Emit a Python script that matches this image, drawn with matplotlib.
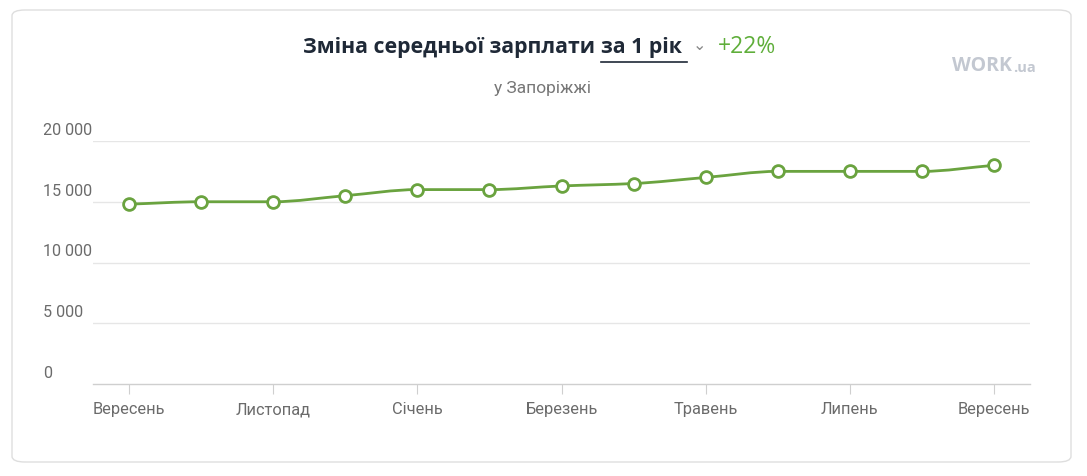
import numpy as np
import matplotlib
matplotlib.use("Agg")
import matplotlib.pyplot as plt
from matplotlib.path import Path
from matplotlib.patches import PathPatch, FancyBboxPatch

# data (monthly average salary, UAH)
months = ["Вересень", "Жовтень", "Листопад", "Грудень", "Січень", "Лютий", "Березень",
          "Квітень", "Травень", "Червень", "Липень", "Серпень", "Вересень"]
salary = [14800, 15000, 15000, 15500, 16000, 16000, 16300, 16500, 17000, 17500, 17500, 17500, 18000]
y_ticks = [0, 5000, 10000, 15000, 20000]
y_tick_labels = ["0", "5 000", "10 000", "15 000", "20 000"]

GREEN = "#6aa33f"
DARK = "#1f2937"
GRAY = "#6b6b6b"
GRID = "#e6e6e6"

W, H = 1087, 476
plt.rcParams["font.family"] = ["Roboto", "DejaVu Sans"]
fig = plt.figure(figsize=(W / 100, H / 100), dpi=100)

# card outline
card = FancyBboxPatch((12 / W, 14 / H), (1071 - 12) / W, (466 - 14) / H,
                      boxstyle="round,pad=0,rounding_size=0.012",
                      transform=fig.transFigure, facecolor="white",
                      edgecolor="#dedede", linewidth=1.0, zorder=-5)
fig.patches.append(card)

left, right, top, bottom = 93, 1030, 141, 384
ax = fig.add_axes([left / W, 1 - bottom / H, (right - left) / W, (bottom - top) / H])
ax.set_zorder(2)
ax.set_facecolor("none")
x = np.arange(len(salary))
ax.set_xlim(-0.5, len(salary) - 0.5)
ax.set_ylim(0, 20000)

for s in ["top", "right", "left"]:
    ax.spines[s].set_visible(False)
ax.spines["bottom"].set_color("#cfcfcf")
ax.spines["bottom"].set_linewidth(1)

for v in y_ticks[1:]:
    ax.axhline(v, color=GRID, lw=1, zorder=0)
ax.set_yticks([])
for v, lab in zip(y_ticks, y_tick_labels):
    ax.text(-50 / (right - left), v + 250, lab, transform=ax.get_yaxis_transform(),
            ha="left", va="bottom", fontsize=11.6, color=GRAY)

ax.set_xticks(x[::2])
ax.set_xticklabels(months[::2], fontsize=11.8, color=GRAY)
ax.tick_params(axis="x", length=7, color="#cfcfcf", pad=6)

# smooth monotone curve through the points (cubic bezier segments)
y = np.array(salary, dtype=float)
d = np.diff(y)
m = np.zeros_like(y)
m[0], m[-1] = d[0], d[-1]
for i in range(1, len(y) - 1):
    if d[i - 1] * d[i] <= 0:
        m[i] = 0
    else:
        m[i] = 2 / (1 / d[i - 1] + 1 / d[i])
verts = [(x[0], y[0])]
codes = [Path.MOVETO]
for i in range(len(y) - 1):
    verts += [(x[i] + 1 / 3, y[i] + m[i] / 3), (x[i + 1] - 1 / 3, y[i + 1] - m[i + 1] / 3),
              (x[i + 1], y[i + 1])]
    codes += [Path.CURVE4] * 3
ax.add_patch(PathPatch(Path(verts, codes), facecolor="none", edgecolor=GREEN, lw=2, zorder=2))
ax.plot(x, y, "o", ms=8.5, mfc="white", mec=GREEN, mew=2, zorder=3, clip_on=False)

# title pieces
title_font = ["Open Sans", "DejaVu Sans"]
fig.text(303 / W, 1 - 47 / H, "Зміна середньої зарплати", fontsize=15.3, fontweight="bold",
         color=DARK, ha="left", va="center", family=title_font)
fig.text(601 / W, 1 - 47 / H, "за 1 рік", fontsize=15.3, fontweight="bold",
         color=DARK, ha="left", va="center", family=title_font)
fig.add_artist(plt.Line2D([601 / W, 687 / W], [1 - 62 / H, 1 - 62 / H], color=DARK, lw=1.2))
fig.text(699 / W, 1 - 45 / H, "⌄", fontsize=11.5, color="#888888", ha="center", va="center",
         family=["DejaVu Sans"])
fig.text(718 / W, 1 - 47 / H, "+22%", fontsize=16.5, color="#5fae3a", ha="left", va="center",
         family=title_font)
fig.text(542 / W, 1 - 89 / H, "у Запоріжжі", fontsize=12.5, color="#777777",
         ha="center", va="center")

# logo
fig.text(952 / W, 1 - 66 / H, "WORK", fontsize=14, fontweight="bold", color="#c3c8d1",
         ha="left", va="center", family=title_font)
fig.text(1013 / W, 1 - 68 / H, ".ua", fontsize=10.5, fontweight="bold", color="#c3c8d1",
         ha="left", va="center", family=title_font)

fig.savefig("out.png", dpi=100)
